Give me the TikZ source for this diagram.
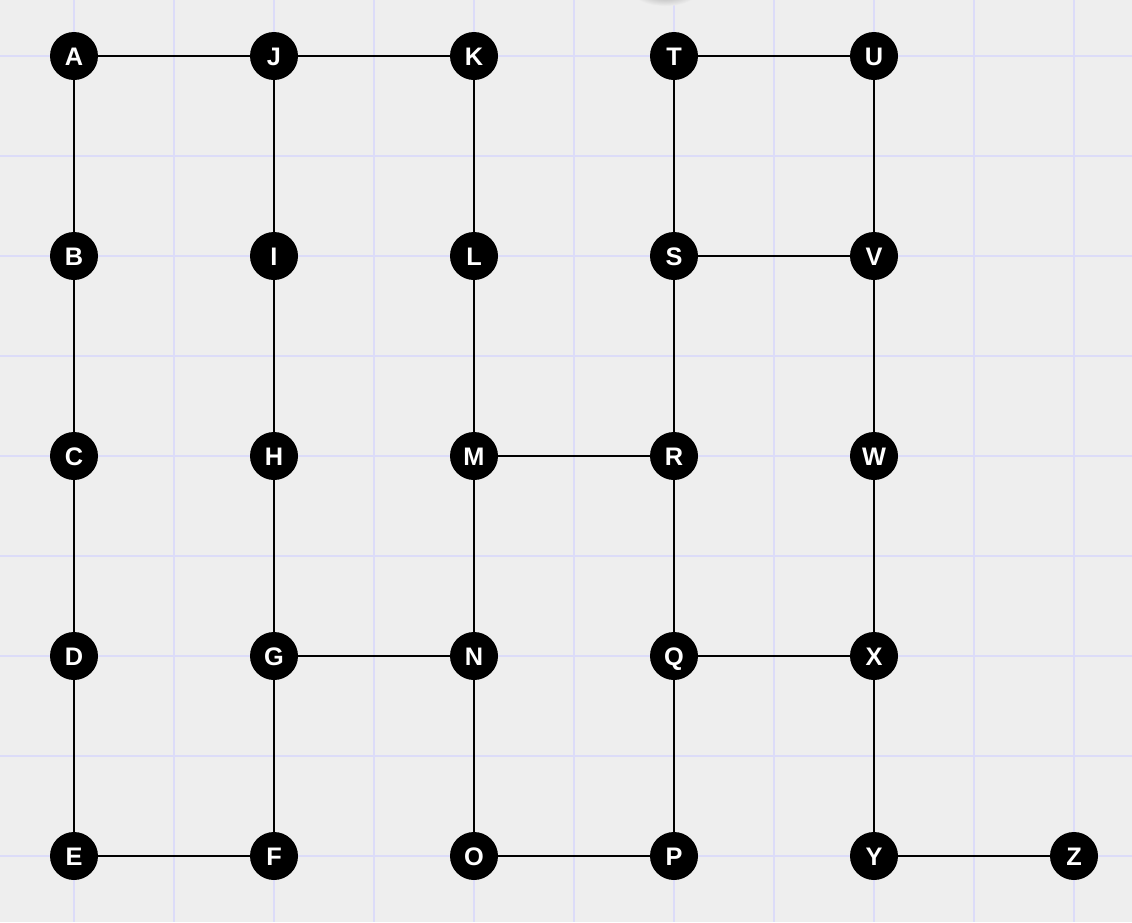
\documentclass[tikz,border=0pt]{standalone}
\usepackage{fontspec}
\setmainfont{Liberation Sans}
\definecolor{bgcol}{HTML}{EEEEEE}
\definecolor{gridcol}{HTML}{DCDCF8}
\begin{document}
\begin{tikzpicture}[x=0.75pt,y=-0.75pt,
  vtx/.style={circle,fill=black,text=white,minimum size=36pt,inner sep=0pt,
    text height=13.6pt,text depth=0pt,
    font=\fontsize{19}{19}\selectfont\bfseries},
  edge/.style={draw=black,line width=1.5pt},
  gridline/.style={draw=gridcol,line width=1.5pt}]
\fill[bgcol] (0,0) rectangle (1132,922);
\useasboundingbox (0,0) rectangle (1132,922);
\begin{scope}
\clip (0,0) rectangle (1132,922);
\foreach \x in {74,174,...,1074} \draw[gridline] (\x,0) -- (\x,922);
\foreach \y in {56,156,...,856} \draw[gridline] (0,\y) -- (1132,\y);
\shade[inner color=black!40,outer color=bgcol] (665,-10) ellipse [x radius=34,y radius=16];
\end{scope}
\foreach \n/\c/\r in {A/0/0,J/1/0,K/2/0,T/3/0,U/4/0,
  B/0/1,I/1/1,L/2/1,S/3/1,V/4/1,
  C/0/2,H/1/2,M/2/2,R/3/2,W/4/2,
  D/0/3,G/1/3,N/2/3,Q/3/3,X/4/3,
  E/0/4,F/1/4,O/2/4,P/3/4,Y/4/4,Z/5/4}
  \node[vtx] (\n) at ({74+200*\c},{56+200*\r}) {\n};
\foreach \a/\b in {A/J,J/K,T/U,A/B,B/C,C/D,D/E,E/F,F/G,G/H,H/I,I/J,K/L,L/M,M/N,N/O,G/N,M/R,O/P,P/Q,Q/R,R/S,S/T,S/V,U/V,V/W,W/X,X/Y,Q/X,Y/Z}
  \draw[edge] (\a) -- (\b);
\end{tikzpicture}
\end{document}
